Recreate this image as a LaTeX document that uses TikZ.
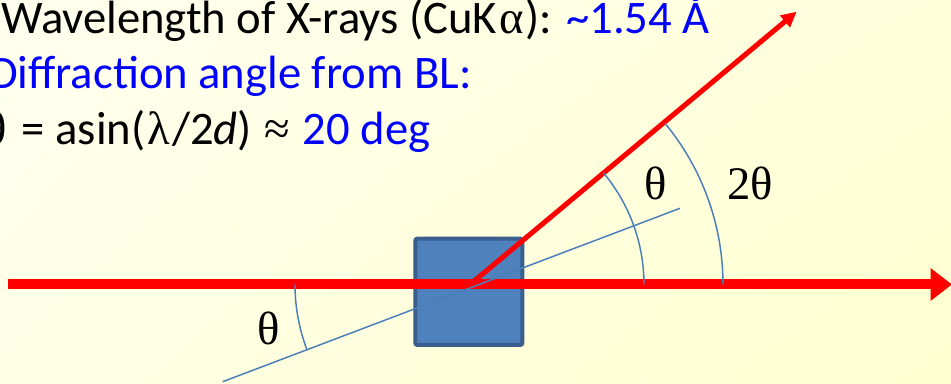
\documentclass[tikz,border=0pt]{standalone}
\usepackage{fontspec}
\setmainfont{Carlito}
\newfontfamily\grk{Liberation Serif}
\usetikzlibrary{arrows.meta,shadings}
\definecolor{rayred}{HTML}{FF0000}
\definecolor{txtblue}{HTML}{0000FF}
\definecolor{guideblue}{HTML}{4A7EBB}
\definecolor{samplefill}{HTML}{4F81BD}
\definecolor{sampleedge}{HTML}{3A5F8C}
\definecolor{bgA}{HTML}{FFFFEF}
\definecolor{bgB}{HTML}{FFFFDC}
\definecolor{bgC}{HTML}{FFFFE6}
\definecolor{bgD}{HTML}{FFFFCF}
\begin{document}
\begin{tikzpicture}[x=0.75pt, y=0.75pt,
    beam/.style={draw=rayred, line width=7.5pt},
    scatbeam/.style={draw=rayred, line width=3.8pt},
    guide/.style={draw=guideblue, line width=1.1pt},
    sample/.style={draw=sampleedge, fill=samplefill, line width=3pt,
                   rounded corners=1.5pt, minimum width=80.25pt,
                   minimum height=79.7pt, inner sep=0pt},
    anglbl/.style={inner sep=0pt, font=\fontsize{35}{42}\selectfont\grk},
    txtline/.style={anchor=base east, inner sep=0pt,
                    font=\fontsize{35}{42}\selectfont}]
    % background
    \useasboundingbox (0,0) rectangle (951,384);
    \shade[upper left=bgA, upper right=bgB, lower left=bgC, lower right=bgD]
        (0,0) rectangle (951,384);

    % text block
    \node[txtline] (wave) at (710,350.7)
        {Wavelength of X-rays (CuK\kern1.5pt{\grk α}\kern1.5pt): \textcolor{txtblue}{\textasciitilde 1.54 Å}};
    \node[txtline, text=txtblue] (diff) at (472,295) {Diffraction angle from BL:};
    \node[txtline] (theta) at (430.5,239.3)
        {{\grk θ}\kern3pt{} = asin(\kern1.5pt{\grk λ}\kern1.5pt/2\textit{d}) \kern1.5pt{\grk ≈}\kern1.5pt{} \textcolor{txtblue}{20 deg}};

    % sample
    \node[sample] (xtal) at (468.8,92.2) {};

    % beams and sample plane
    \coordinate (src) at (8,99.5);
    \coordinate (O) at (470,99.5);
    \coordinate (C) at (479,99.5);
    \coordinate (dst) at (952,99.5);
    \coordinate (scat) at (796.7,372.3);
    \coordinate (gA) at (222.7,2.3);
    \coordinate (gB) at (680,175.7);
    \draw[beam, -{Triangle[length=16pt, width=23.5pt]}] (src) -- (dst);
    \draw[guide] (gA) -- (gB);
    \draw[scatbeam, -{Triangle[length=11.5pt, width=11pt]}] (O) -- (scat);

    % angle arcs
    \draw[guide] ([shift={(0:174)}]O) arc (0:40:174);
    \draw[guide] ([shift={(0:253)}]O) arc (0:39.6:253);
    \draw[guide] ([shift={(180:184)}]C) arc (180:200.7:184);

    % angle labels
    \node[anglbl] (th1) at (656,200.7) {θ};
    \node[anglbl, anchor=west] (th2) at (727,200.7) {2θ};
    \node[anglbl] (th3) at (268.3,55.7) {θ};
\end{tikzpicture}
\end{document}
